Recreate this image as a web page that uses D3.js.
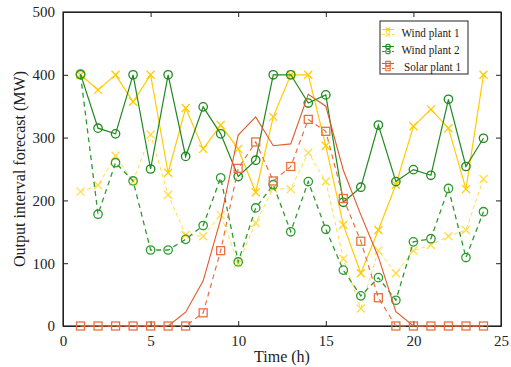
<!DOCTYPE html>
<html>
<head>
<meta charset="utf-8">
<script src="https://cdn.jsdelivr.net/npm/d3@7"></script>
<style>
  body { margin: 0; background: #fff; }
  svg { font-family: "Liberation Serif", "DejaVu Serif", serif; }
</style>
</head>
<body>
<div id="chart"></div>
<script>
// hours 1..24
var hours = d3.range(1, 25);
var wind1Upper = [400, 376, 400, 357, 400, 244, 347, 282, 320, 282, 213, 333, 400, 400, 287, 161, 84, 153, 225, 318, 345, 315, 218, 400];
var wind1Lower = [214, 224, 271, 230, 305, 209, 145, 143, 177, 100, 164, 219, 218, 276, 230, 107, 28, 120, 84, 120, 129, 143, 153, 234];
var wind2Upper = [401, 315, 306, 400, 250, 400, 270, 349, 306, 238, 264, 400, 400, 355, 368, 197, 221, 320, 230, 249, 240, 361, 254, 299];
var wind2Lower = [400, 178, 260, 231, 121, 121, 138, 160, 236, 102, 188, 225, 150, 230, 154, 89, 48, 77, 41, 134, 139, 219, 109, 182];
var solarUpper = [0, 0, 0, 0, 0, 0, 22, 72, 170, 304, 333, 287, 290, 369, 350, 248, 177, 110, 23, 0, 0, 0, 0, 0];
var solarLower = [0, 0, 0, 0, 0, 0, 0, 21, 120, 251, 293, 231, 254, 329, 310, 203, 135, 45, 0, 0, 0, 0, 0, 0];
var xTicks = [0, 5, 10, 15, 20, 25];
var yTicks = [0, 100, 200, 300, 400, 500];
var legendNames = ['Wind plant 1', 'Wind plant 2', 'Solar plant 1'];

var options = {
	width: 511, height: 367,
	margin: {left: 63, right: 10, top: 12, bottom: 41}
};
var w = options.width - options.margin.left - options.margin.right;
var h = options.height - options.margin.top - options.margin.bottom;

var colors = {wind1: '#ffcc00', wind1Light: '#ffdd44', wind2: '#1e8a1e', wind2Light: '#2e9a2e', solar: '#e2582a', solarLight: '#e8703f'};

var svg = d3.select('#chart').append('svg')
	.attr('width', options.width)
	.attr('height', options.height);
var g = svg.append('g')
	.attr('transform', 'translate(' + options.margin.left + ',' + options.margin.top + ')');

var x = d3.scaleLinear().domain([0, 25]).range([0, w]);
var y = d3.scaleLinear().domain([0, 500]).range([h, 0]);

// axes, ticks pointing inward
g.append('g').attr('class', 'axis')
	.attr('transform', 'translate(0,' + h + ')')
	.call(d3.axisBottom(x).tickValues(xTicks).tickSizeInner(-5).tickSizeOuter(0).tickPadding(9));
g.append('g').attr('class', 'axis')
	.call(d3.axisLeft(y).tickValues(yTicks).tickSizeInner(-5).tickSizeOuter(0).tickPadding(8));
g.append('g').attr('class', 'axis')
	.call(d3.axisTop(x).tickValues(xTicks).tickSizeInner(-5).tickSizeOuter(0).tickFormat(''));
g.append('g').attr('class', 'axis')
	.attr('transform', 'translate(' + w + ',0)')
	.call(d3.axisRight(y).tickValues(yTicks).tickSizeInner(-5).tickSizeOuter(0).tickFormat(''));
g.append('rect').attr('width', w).attr('height', h)
	.style('fill', 'none').style('stroke', '#222').style('stroke-width', 1.2);

g.selectAll('.axis path').style('stroke', '#222');
g.selectAll('.axis .tick line').style('stroke', '#222');
g.selectAll('.axis text').style('font-family', '"Liberation Serif", serif').style('font-size', '15px').style('fill', '#222');

svg.append('text')
	.attr('x', options.margin.left + w / 2).attr('y', 362)
	.attr('text-anchor', 'middle').style('font-size', '16px').style('fill', '#222')
	.text('Time (h)');
svg.append('text')
	.attr('transform', 'translate(25,' + (options.margin.top + h / 2) + ') rotate(-90)')
	.attr('text-anchor', 'middle').style('font-size', '16px').style('fill', '#222')
	.text('Output interval forecast (MW)');

// series definitions
var series = [
	{values: wind1Upper, color: colors.wind1, dash: null, marker: 'x', width: 1.2},
	{values: wind1Lower, color: colors.wind1Light, dash: '4,3', marker: 'x', width: 1},
	{values: wind2Upper, color: colors.wind2, dash: null, marker: 'o', width: 1.2},
	{values: wind2Lower, color: colors.wind2Light, dash: '5,4', marker: 'o', width: 1.3},
	{values: solarUpper, color: colors.solar, dash: null, marker: null, width: 1.1},
	{values: solarLower, color: colors.solarLight, dash: '5,4', marker: 's', width: 1.2}
];

var line = d3.line().x(function(d, i) { return x(hours[i]); }).y(function(d) { return y(d); });

function drawMarker(sel, type, color, sw) {
	sw = sw || 1.3;
	if (type === 'x') {
		sel.append('path').attr('d', 'M-4,-4L4,4M-4,4L4,-4')
			.style('stroke', color).style('stroke-width', sw).style('fill', 'none');
	} else if (type === 'o') {
		sel.append('circle').attr('r', 4.2)
			.style('stroke', color).style('stroke-width', sw).style('fill', 'none');
	} else if (type === 's') {
		sel.append('rect').attr('x', -4).attr('y', -4).attr('width', 8).attr('height', 8)
			.style('stroke', color).style('stroke-width', sw).style('fill', 'none');
	}
}

series.forEach(function(s) {
	g.append('path').datum(s.values)
		.attr('d', line)
		.style('fill', 'none')
		.style('stroke', s.color)
		.style('stroke-width', s.width)
		.style('stroke-dasharray', s.dash);
	if (s.marker) {
		g.selectAll(null).data(s.values).enter().append('g')
			.attr('transform', function(d, i) { return 'translate(' + x(hours[i]) + ',' + y(d) + ')'; })
			.each(function() { drawMarker(d3.select(this), s.marker, s.color); });
	}
});

// legend
var legend = svg.append('g').attr('transform', 'translate(380,21)');
legend.append('rect').attr('width', 88).attr('height', 53)
	.style('fill', '#fff').style('stroke', '#222').style('stroke-width', 1);
var legendItems = [
	{name: legendNames[0], c1: colors.wind1, c2: colors.wind1Light, m: 'x', tx: 21.5, len: 58},
	{name: legendNames[1], c1: colors.wind2, c2: colors.wind2Light, m: 'o', tx: 21.5, len: 58},
	{name: legendNames[2], c1: colors.solar, c2: colors.solarLight, m: 's', tx: 24, len: 57}
];
legendItems.forEach(function(it, i) {
	var row = legend.append('g').attr('transform', 'translate(0,' + (11 + i * 17) + ')');
	row.append('line').attr('x1', 2).attr('x2', 14).attr('y1', -2.5).attr('y2', -2.5)
		.style('stroke', it.c1).style('stroke-width', 1.1);
	row.append('line').attr('x1', 2).attr('x2', 14).attr('y1', 2.5).attr('y2', 2.5)
		.style('stroke', it.c2).style('stroke-width', 1.1).style('stroke-dasharray', '3,2');
	var m1 = row.append('g').attr('transform', 'translate(8,-2.5) scale(0.55)');
	drawMarker(m1, it.m, it.c1, 2);
	var m2 = row.append('g').attr('transform', 'translate(8,2.5) scale(0.55)');
	drawMarker(m2, it.m, it.c2, 2);
	row.append('text').attr('x', it.tx).attr('y', 4.5)
		.attr('textLength', it.len).attr('lengthAdjust', 'spacingAndGlyphs')
		.style('font-size', '13px').style('fill', '#222')
		.text(it.name);
});
</script>
</body>
</html>
